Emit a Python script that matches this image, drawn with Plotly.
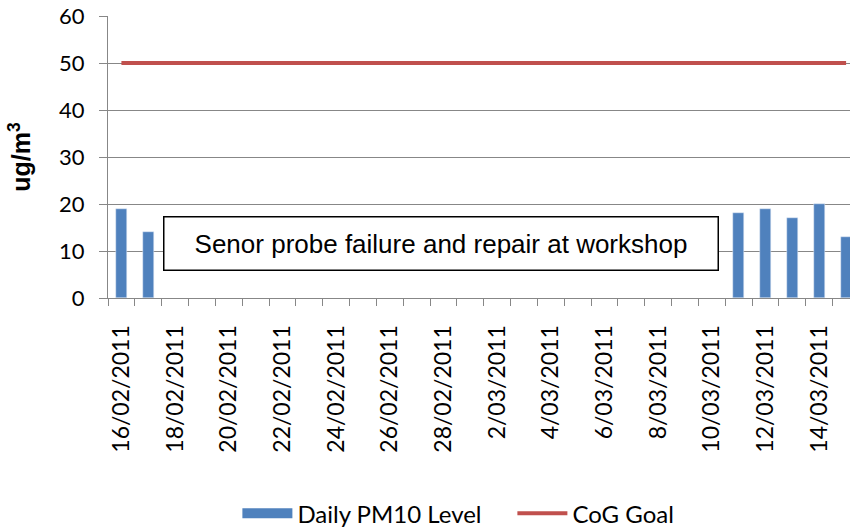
import plotly.graph_objects as go

# daily dates shown on the category axis
dates = ["2011-02-16", "2011-02-17", "2011-02-18", "2011-02-19", "2011-02-20",
         "2011-02-21", "2011-02-22", "2011-02-23", "2011-02-24", "2011-02-25",
         "2011-02-26", "2011-02-27", "2011-02-28", "2011-03-01", "2011-03-02",
         "2011-03-03", "2011-03-04", "2011-03-05", "2011-03-06", "2011-03-07",
         "2011-03-08", "2011-03-09", "2011-03-10", "2011-03-11", "2011-03-12",
         "2011-03-13", "2011-03-14", "2011-03-15"]
pm10 = [19, 14, None, None, None, None, None, None, None, None,
        None, None, None, None, None, None, None, None, None, None,
        None, None, None, 18, 19, 17, 20, 13]
goal = [50] * len(dates)

tick_labels = ["16/02/2011", "18/02/2011", "20/02/2011", "22/02/2011",
               "24/02/2011", "26/02/2011", "28/02/2011", "2/03/2011",
               "4/03/2011", "6/03/2011", "8/03/2011", "10/03/2011",
               "12/03/2011", "14/03/2011"]
tick_vals = dates[::2]

note = "Senor probe failure and repair at workshop"

DAY = 86400000
GRID = "#878787"
BLUE = "#4F81BD"
RED = "#C0504D"

fig = go.Figure()
fig.add_trace(go.Bar(x=dates, y=pm10, name="Daily PM10 Level", marker_color=BLUE,
                     width=0.4 * DAY, legendgroup="pm", showlegend=False))
# wide blue key like the original legend
fig.add_trace(go.Scatter(x=[None], y=[None], mode="lines", name="Daily PM10 Level",
                         legendgroup="pm", line=dict(color=BLUE, width=14)))
fig.add_trace(go.Scatter(x=dates, y=goal, mode="lines", name="CoG Goal",
                         line=dict(color=RED, width=4)))

fig.add_annotation(text=note, xref="paper", yref="y", x=0.449, y=11.56,
                   showarrow=False, font=dict(family="Liberation Sans", size=26, color="black"),
                   bgcolor="white", bordercolor="black", borderwidth=1.5, borderpad=1,
                   width=551, height=50)
# y axis title
fig.add_annotation(text="<b>ug/m<sup>3</sup></b>", xref="paper", yref="paper",
                   x=-0.119, y=0.5, xanchor="center", yanchor="middle",
                   textangle=-90, showarrow=False,
                   font=dict(family="Liberation Sans", size=25, color="black"))

fig.update_layout(
    width=850, height=528,
    margin=dict(l=108, r=0, t=16, b=230, autoexpand=False),
    plot_bgcolor="white", paper_bgcolor="white",
    showlegend=True,
    legend=dict(orientation="h", x=0.545, xanchor="center", y=-0.765, yanchor="middle",
                itemwidth=50, entrywidth=210, entrywidthmode="pixels",
                font=dict(family="Lato", size=24, color="black"), traceorder="normal"),
    bargap=0,
)
fig.update_xaxes(type="date", range=["2011-02-15 12:00", "2011-03-15 03:30"],
                 automargin=False,
                 tickmode="array", tickvals=tick_vals, ticktext=tick_labels,
                 tickangle=-90, ticks="", ticklabelstandoff=17,
                 tickfont=dict(family="Lato", size=23, color="black"),
                 showgrid=False, showline=True, linecolor=GRID, linewidth=1,
                 minor=dict(ticks="outside", ticklen=7, tickcolor=GRID,
                            tick0="2011-02-15 12:00", dtick=DAY, showgrid=False))
fig.update_yaxes(range=[0, 60], dtick=10, showgrid=True, gridcolor=GRID, gridwidth=1,
                 automargin=False,
                 showline=True, linecolor=GRID, linewidth=1,
                 ticks="outside", ticklen=8, tickcolor=GRID, ticklabelstandoff=10,
                 tickfont=dict(family="Lato", size=22, color="black"),
                 zeroline=False)

fig.write_html("out.html", config={"displayModeBar": False},
               post_script="document.body.style.margin='0';")
